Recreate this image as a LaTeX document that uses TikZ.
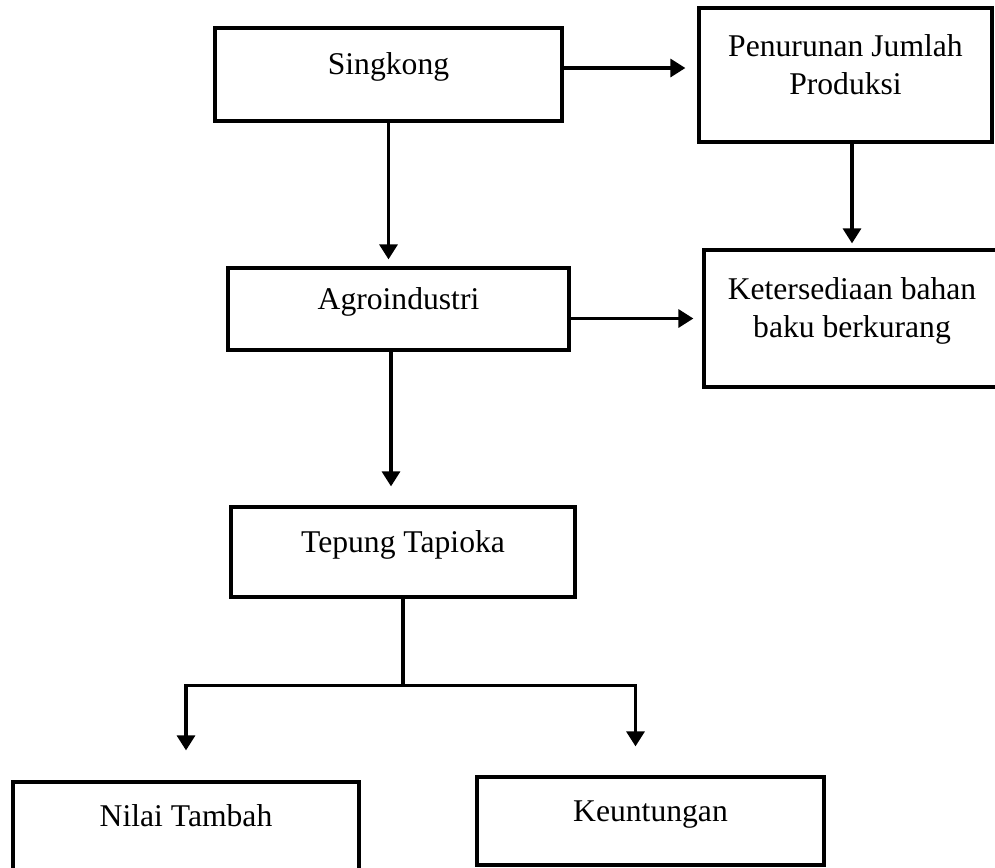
\documentclass[tikz,border=0pt]{standalone}
\usepackage{fontspec}
\setmainfont{Liberation Serif}
\usetikzlibrary{arrows.meta,calc}

\begin{document}
\begin{tikzpicture}[>={Triangle[width=0.36cm,length=0.3cm]}, line width=0.065cm,
    box/.style={draw, line width=0.065cm, inner sep=0pt, align=center,
      font=\fontsize{18}{21.6}\selectfont, text height=0.3cm, text depth=0.3cm},
    twoline/.style={text height=1.06cm, text depth=0.3cm}]
      \clip (0,0) rectangle (19.9,-17.34);

      \node (singkong) at (7.77,-1.49)
      [box, minimum width=6.94cm, minimum height=1.86cm] {Singkong};

      \node (penurunan) at (16.91,-1.5)
      [box, twoline, minimum width=5.86cm, minimum height=2.68cm] {Penurunan Jumlah\\Produksi};

      \node (agro) at (7.97,-6.18)
      [box, minimum width=6.82cm, minimum height=1.64cm] {Agroindustri};

      \node (bahanbaku) at (17.04,-6.37)
      [box, twoline, minimum width=5.92cm, minimum height=2.74cm] {Ketersediaan bahan\\baku berkurang};

      \node (tapioka) at (8.06,-11.04)
      [box, minimum width=6.88cm, minimum height=1.8cm] {Tepung Tapioka};

      \node (nilai) at (3.72,-16.52)
      [box, minimum width=6.92cm, minimum height=1.76cm] {Nilai Tambah};

      \node (untung) at (13.01,-16.42)
      [box, minimum width=6.94cm, minimum height=1.76cm] {Keuntungan};

      \draw [->, shorten >=0.24cm] ([yshift=0.13cm]singkong.east) -- ([yshift=0.13cm]singkong.east -| penurunan.west);
      \draw [->, shorten >=0.14cm] (singkong.south) -- (singkong.south |- agro.north);
      \draw [->, shorten >=0.1cm] (bahanbaku.north |- penurunan.south) -- (bahanbaku.north);
      \draw [->, shorten >=0.18cm] (bahanbaku.west -| agro.east) -- (bahanbaku.west);
      \draw [->, shorten >=0.38cm] ([xshift=-0.15cm]agro.south) -- ([xshift=-0.15cm]agro.south |- tapioka.north);

      % percabangan ke dua hasil
      \coordinate (cabang) at ([yshift=-1.74cm]tapioka.south);
      \draw (tapioka.south) -- (cabang);
      \draw [->, shorten >=0.6cm] (cabang) -| (nilai.north);
      \draw [->, shorten >=0.58cm] (cabang) -| ([xshift=-0.3cm]untung.north);
    \end{tikzpicture}
\end{document}
